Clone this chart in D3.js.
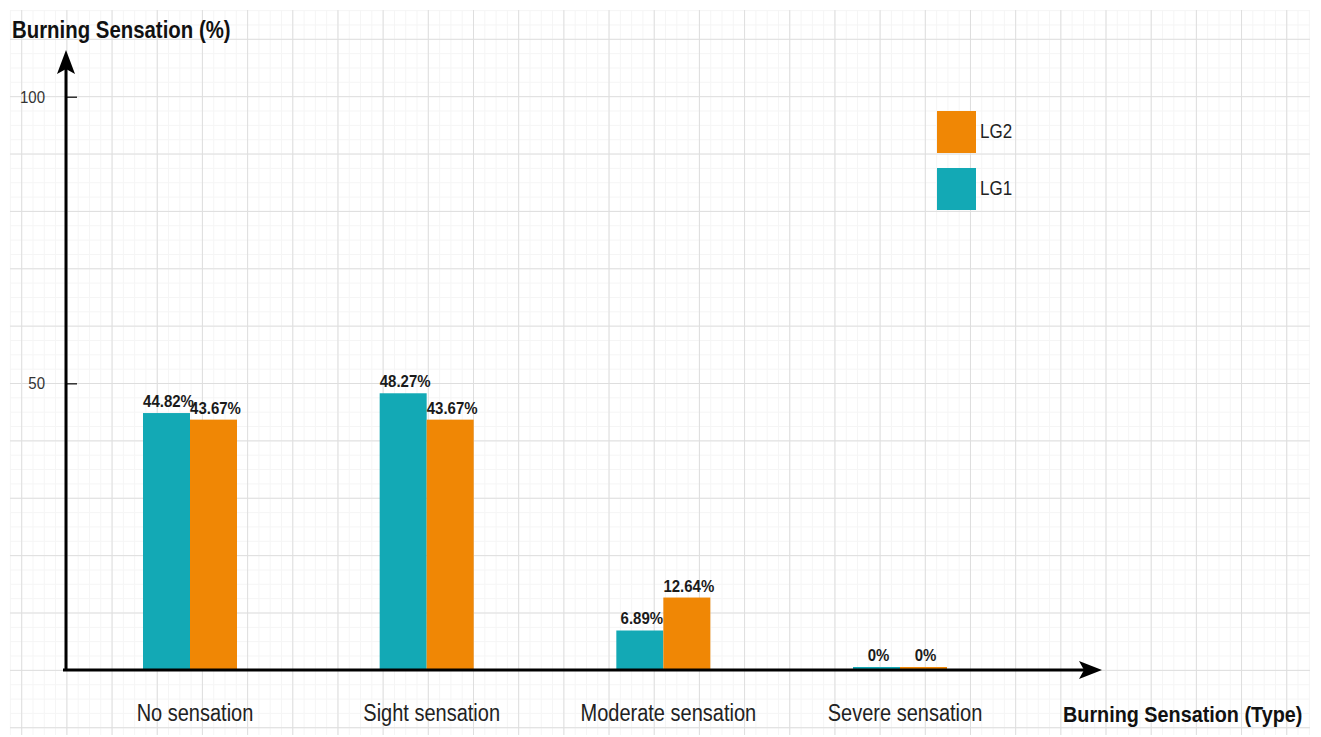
<!DOCTYPE html>
<html>
<head>
<meta charset="utf-8">
<script src="https://cdn.jsdelivr.net/npm/d3@7"></script>
<style>
  body { margin: 0; background: #fff; }
  text { font-family: "Liberation Sans", Arial, Helvetica, sans-serif; }
</style>
</head>
<body>
<div id="chart"></div>
<script>
const svgWidth = 1321;
const svgHeight = 737;

const categories = ["No sensation", "Sight sensation", "Moderate sensation", "Severe sensation"];
const seriesNames = ["LG1", "LG2"];
const lg1Values = [44.82, 48.27, 6.89, 0];
const lg2Values = [43.67, 43.67, 12.64, 0];
const yTicks = [50, 100];
const legendOrder = ["LG2", "LG1"];

const color = d3.scaleOrdinal()
    .domain(seriesNames)
    .range(["#13a9b5", "#f08705"]);

const data = categories.map((c, i) => ({ cat: c, LG1: lg1Values[i], LG2: lg2Values[i] }));

const svg = d3.select("#chart")
    .append("svg")
    .attr("width", svgWidth)
    .attr("height", svgHeight);

svg.append("rect").attr("width", svgWidth).attr("height", svgHeight).attr("fill", "#fff");

// text is slightly stretched vertically in the original
const stretch = 1.15;
function addText(g, x, y, str) {
    return g.append("text")
        .attr("transform", `translate(${x},${y}) scale(1,${stretch})`)
        .text(str);
}

// background grid
const grid = svg.append("g");
const gx0 = 10, gx1 = 1310, gy0 = 10, gy1 = 735;
const colStep = 45.18, rowStep = 57.37;
const colStart = 21.7, rowStart = 39.3;
const minorX = d3.range(colStart - colStep, gx1, colStep / 4).filter(v => v >= gx0);
const minorY = d3.range(rowStart - rowStep, gy1, rowStep / 4).filter(v => v >= gy0);
const majorX = d3.range(colStart, gx1, colStep);
const majorY = d3.range(rowStart, gy1, rowStep);

grid.selectAll(".mx").data(minorX).enter().append("line")
    .attr("x1", d => d).attr("x2", d => d).attr("y1", gy0).attr("y2", gy1)
    .attr("stroke", "#f5f5f5").attr("stroke-width", 1);
grid.selectAll(".my").data(minorY).enter().append("line")
    .attr("y1", d => d).attr("y2", d => d).attr("x1", gx0).attr("x2", gx1)
    .attr("stroke", "#f5f5f5").attr("stroke-width", 1);
grid.selectAll(".Mx").data(majorX).enter().append("line")
    .attr("x1", d => d).attr("x2", d => d).attr("y1", gy0).attr("y2", gy1)
    .attr("stroke", "#dedede").attr("stroke-width", 1);
grid.selectAll(".My").data(majorY).enter().append("line")
    .attr("y1", d => d).attr("y2", d => d).attr("x1", gx0).attr("x2", gx1)
    .attr("stroke", "#dedede").attr("stroke-width", 1);

// scales
const y = d3.scaleLinear()
    .domain([0, 100])
    .range([670, 96.7]);

const x = d3.scalePoint()
    .domain(categories)
    .range([190, 900]);

const xInner = d3.scaleBand()
    .domain(seriesNames)
    .range([-47, 47]);

// bars
const groups = svg.append("g")
    .selectAll("g")
    .data(data)
    .enter().append("g")
    .attr("transform", d => `translate(${x(d.cat)},0)`);

groups.selectAll("rect")
    .data(d => seriesNames.map(k => ({ key: k, value: d[k] })))
    .enter().append("rect")
    .attr("x", d => xInner(d.key))
    .attr("y", d => Math.min(y(d.value), y(0) - 3))
    .attr("width", xInner.bandwidth())
    .attr("height", d => Math.max(y(0) - y(d.value), 3))
    .attr("fill", d => color(d.key));

groups.each(function(d) {
    const g = d3.select(this);
    seriesNames.forEach(k => {
        addText(g, xInner(k) + xInner.bandwidth() / 2 + 2, Math.min(y(d[k]), y(0) - 3) - 6, d[k] + "%")
            .attr("text-anchor", "middle")
            .style("font-size", "15px")
            .style("font-weight", "bold")
            .style("fill", "#1a1a1a");
    });
});

// axes
const axes = svg.append("g");
axes.append("line")
    .attr("x1", 66).attr("x2", 66).attr("y1", 671).attr("y2", 64)
    .attr("stroke", "#000").attr("stroke-width", 3);
axes.append("path")
    .attr("d", "M66,50 L57,74 L66,69 L75,74 Z")
    .attr("fill", "#000");
axes.append("line")
    .attr("x1", 63).attr("x2", 1088).attr("y1", y(0)).attr("y2", y(0))
    .attr("stroke", "#000").attr("stroke-width", 3);
axes.append("path")
    .attr("d", `M1102,${y(0)} L1079,${y(0) - 9} L1084,${y(0)} L1079,${y(0) + 9} Z`)
    .attr("fill", "#000");

const yAxis = svg.append("g")
    .attr("transform", "translate(66,0)")
    .call(d3.axisLeft(y).tickValues(yTicks).tickSize(11).tickPadding(10));
yAxis.select(".domain").remove();
yAxis.selectAll(".tick line").attr("x2", 11).attr("stroke-width", 1.2);
yAxis.selectAll(".tick text")
    .style("font-size", "15px")
    .style("fill", "#333")
    .attr("dy", "0.32em")
    .attr("transform", `scale(1,${stretch})`);

// category labels
categories.forEach(c => {
    addText(svg, x(c) + 5, 721, c)
        .attr("text-anchor", "middle")
        .style("font-size", "20px")
        .style("fill", "#222");
});

// axis titles
addText(svg, 12, 38, "Burning Sensation (%)")
    .style("font-size", "20.4px")
    .style("font-weight", "bold")
    .style("fill", "#111");
addText(svg, 1063, 722, "Burning Sensation (Type)")
    .style("font-size", "19.8px")
    .style("font-weight", "bold")
    .style("fill", "#111");

// legend
const legend = svg.append("g").attr("transform", "translate(937,111)");
legendOrder.forEach((k, i) => {
    const g = legend.append("g").attr("transform", `translate(0,${i * 57})`);
    g.append("rect")
        .attr("width", 39)
        .attr("height", 42)
        .attr("fill", color(k));
    addText(g, 43, 27, k)
        .style("font-size", "17px")
        .style("fill", "#222");
});
</script>
</body>
</html>
